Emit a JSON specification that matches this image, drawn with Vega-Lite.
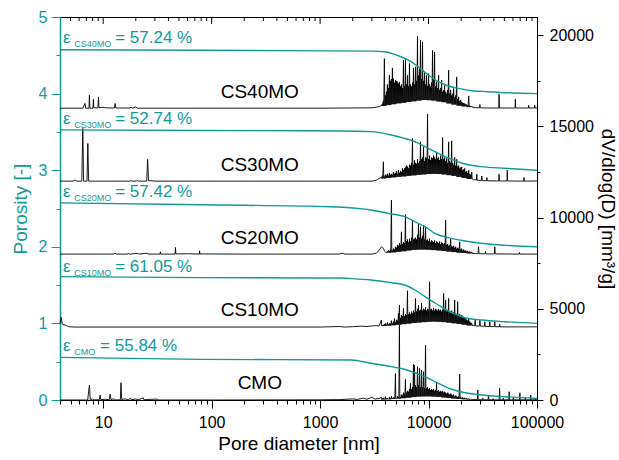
{
"$schema":"https://vega.github.io/schema/vega-lite/v6.json",
"width":477,"height":383,
"autosize":{"type":"none"},
"padding":{"left":60,"top":17,"right":82,"bottom":60},
"config":{"font":"Liberation Sans","view":{"stroke":"black","strokeWidth":1},"axis":{"grid":false,"labelFont":"Liberation Sans","titleFont":"Liberation Sans","labelFontSize":16,"titleFontSize":19,"titleFontWeight":"normal","labelOverlap":false,"labelFlush":false}},
"datasets":{
"dist":[
{"s":"CS40MO","d":4,"v":16000},{"s":"CS40MO","d":6.5,"v":16000},{"s":"CS40MO","d":6.8,"v":16260},{"s":"CS40MO","d":6.9,"v":16000},{"s":"CS40MO","d":7.4,"v":16000},{"s":"CS40MO","d":7.47,"v":16710},{"s":"CS40MO","d":7.55,"v":16000},{"s":"CS40MO","d":8.05,"v":16000},{"s":"CS40MO","d":8.13,"v":16490},{"s":"CS40MO","d":8.2,"v":16020},{"s":"CS40MO","d":8.95,"v":16020},{"s":"CS40MO","d":9.05,"v":16620},{"s":"CS40MO","d":9.15,"v":16030},{"s":"CS40MO","d":10,"v":16050},{"s":"CS40MO","d":10.5,"v":16020},{"s":"CS40MO","d":12.7,"v":16010},{"s":"CS40MO","d":12.9,"v":16260},{"s":"CS40MO","d":13.1,"v":16010},{"s":"CS40MO","d":17.8,"v":16010},{"s":"CS40MO","d":18,"v":16070},{"s":"CS40MO","d":18.5,"v":16000},{"s":"CS40MO","d":20,"v":16070},{"s":"CS40MO","d":20.5,"v":16000},{"s":"CS40MO","d":100,"v":16000},{"s":"CS40MO","d":1000,"v":16000},{"s":"CS40MO","d":3000,"v":16020},{"s":"CS40MO","d":3500,"v":16080},
{"s":"CS40MO","d":3673,"v":16150},{"s":"CS40MO","d":3702,"v":16120},{"s":"CS40MO","d":3752,"v":16250},{"s":"CS40MO","d":3782,"v":16120},{"s":"CS40MO","d":3833,"v":16400},{"s":"CS40MO","d":3864,"v":16120},{"s":"CS40MO","d":3916,"v":18720},{"s":"CS40MO","d":3947,"v":16120},{"s":"CS40MO","d":4000,"v":16700},{"s":"CS40MO","d":4032,"v":16120},
{"s":"CS40MO","d":4086,"v":16900},{"s":"CS40MO","d":4119,"v":16170},{"s":"CS40MO","d":4174,"v":17300},{"s":"CS40MO","d":4207,"v":16170},{"s":"CS40MO","d":4264,"v":17100},{"s":"CS40MO","d":4298,"v":16170},{"s":"CS40MO","d":4356,"v":17810},{"s":"CS40MO","d":4391,"v":16170},{"s":"CS40MO","d":4450,"v":17500},{"s":"CS40MO","d":4486,"v":16170},
{"s":"CS40MO","d":4546,"v":17600},{"s":"CS40MO","d":4582,"v":16220},{"s":"CS40MO","d":4644,"v":18210},{"s":"CS40MO","d":4681,"v":16220},{"s":"CS40MO","d":4744,"v":17625},{"s":"CS40MO","d":4782,"v":16220},{"s":"CS40MO","d":4846,"v":17400},{"s":"CS40MO","d":4885,"v":16220},{"s":"CS40MO","d":4951,"v":17530},{"s":"CS40MO","d":4991,"v":16220},
{"s":"CS40MO","d":5057,"v":17500},{"s":"CS40MO","d":5097,"v":16270},{"s":"CS40MO","d":5166,"v":17450},{"s":"CS40MO","d":5207,"v":16270},{"s":"CS40MO","d":5278,"v":17350},{"s":"CS40MO","d":5320,"v":16270},{"s":"CS40MO","d":5391,"v":17440},{"s":"CS40MO","d":5434,"v":16270},{"s":"CS40MO","d":5507,"v":17200},{"s":"CS40MO","d":5551,"v":16270},
{"s":"CS40MO","d":5626,"v":17300},{"s":"CS40MO","d":5671,"v":16300},{"s":"CS40MO","d":5747,"v":17100},{"s":"CS40MO","d":5793,"v":16300},{"s":"CS40MO","d":5871,"v":18630},{"s":"CS40MO","d":5918,"v":16300},{"s":"CS40MO","d":5998,"v":17200},{"s":"CS40MO","d":6046,"v":16300},{"s":"CS40MO","d":6127,"v":18720},{"s":"CS40MO","d":6176,"v":16300},
{"s":"CS40MO","d":6259,"v":17300},{"s":"CS40MO","d":6309,"v":16340},{"s":"CS40MO","d":6394,"v":17810},{"s":"CS40MO","d":6445,"v":16340},{"s":"CS40MO","d":6532,"v":17200},{"s":"CS40MO","d":6584,"v":16340},{"s":"CS40MO","d":6672,"v":18450},{"s":"CS40MO","d":6725,"v":16340},{"s":"CS40MO","d":6816,"v":17300},{"s":"CS40MO","d":6871,"v":16340},
{"s":"CS40MO","d":6963,"v":17200},{"s":"CS40MO","d":7019,"v":16380},{"s":"CS40MO","d":7113,"v":17400},{"s":"CS40MO","d":7170,"v":16380},{"s":"CS40MO","d":7266,"v":18210},{"s":"CS40MO","d":7324,"v":16380},{"s":"CS40MO","d":7423,"v":17300},{"s":"CS40MO","d":7482,"v":16380},{"s":"CS40MO","d":7583,"v":18265},{"s":"CS40MO","d":7644,"v":16380},
{"s":"CS40MO","d":7746,"v":17500},{"s":"CS40MO","d":7808,"v":16420},{"s":"CS40MO","d":7913,"v":19945},{"s":"CS40MO","d":7976,"v":16420},{"s":"CS40MO","d":8084,"v":17800},{"s":"CS40MO","d":8149,"v":16420},{"s":"CS40MO","d":8258,"v":18200},{"s":"CS40MO","d":8324,"v":16420},{"s":"CS40MO","d":8436,"v":19725},{"s":"CS40MO","d":8503,"v":16420},
{"s":"CS40MO","d":8618,"v":17600},{"s":"CS40MO","d":8687,"v":16450},{"s":"CS40MO","d":8803,"v":19634},{"s":"CS40MO","d":8873,"v":16450},{"s":"CS40MO","d":8993,"v":17500},{"s":"CS40MO","d":9065,"v":16450},{"s":"CS40MO","d":9187,"v":17990},{"s":"CS40MO","d":9260,"v":16450},{"s":"CS40MO","d":9385,"v":17300},{"s":"CS40MO","d":9460,"v":16450},
{"s":"CS40MO","d":9587,"v":17810},{"s":"CS40MO","d":9664,"v":16440},{"s":"CS40MO","d":9794,"v":17200},{"s":"CS40MO","d":9872,"v":16440},{"s":"CS40MO","d":10005,"v":17900},{"s":"CS40MO","d":10085,"v":16440},{"s":"CS40MO","d":10220,"v":17300},{"s":"CS40MO","d":10302,"v":16440},{"s":"CS40MO","d":10440,"v":17200},{"s":"CS40MO","d":10524,"v":16440},
{"s":"CS40MO","d":10665,"v":17400},{"s":"CS40MO","d":10750,"v":16420},{"s":"CS40MO","d":10895,"v":19177},{"s":"CS40MO","d":10982,"v":16420},{"s":"CS40MO","d":11130,"v":17600},{"s":"CS40MO","d":11219,"v":16420},{"s":"CS40MO","d":11370,"v":19086},{"s":"CS40MO","d":11461,"v":16420},{"s":"CS40MO","d":11615,"v":17200},{"s":"CS40MO","d":11708,"v":16420},
{"s":"CS40MO","d":11865,"v":17450},{"s":"CS40MO","d":11960,"v":16370},{"s":"CS40MO","d":12121,"v":17100},{"s":"CS40MO","d":12218,"v":16370},{"s":"CS40MO","d":12382,"v":17810},{"s":"CS40MO","d":12481,"v":16370},{"s":"CS40MO","d":12649,"v":17000},{"s":"CS40MO","d":12750,"v":16370},{"s":"CS40MO","d":12921,"v":17100},{"s":"CS40MO","d":13024,"v":16370},
{"s":"CS40MO","d":13200,"v":17534},{"s":"CS40MO","d":13306,"v":16330},{"s":"CS40MO","d":13484,"v":16900},{"s":"CS40MO","d":13592,"v":16330},{"s":"CS40MO","d":13775,"v":17000},{"s":"CS40MO","d":13885,"v":16330},{"s":"CS40MO","d":14072,"v":17250},{"s":"CS40MO","d":14185,"v":16330},{"s":"CS40MO","d":14375,"v":16900},{"s":"CS40MO","d":14490,"v":16330},
{"s":"CS40MO","d":14685,"v":16800},{"s":"CS40MO","d":14802,"v":16260},{"s":"CS40MO","d":15001,"v":17000},{"s":"CS40MO","d":15121,"v":16260},{"s":"CS40MO","d":15324,"v":18080},{"s":"CS40MO","d":15447,"v":16260},{"s":"CS40MO","d":15655,"v":16800},{"s":"CS40MO","d":15780,"v":16260},{"s":"CS40MO","d":15992,"v":17000},{"s":"CS40MO","d":16120,"v":16260},
{"s":"CS40MO","d":16337,"v":16700},{"s":"CS40MO","d":16468,"v":16200},{"s":"CS40MO","d":16689,"v":16800},{"s":"CS40MO","d":16823,"v":16200},{"s":"CS40MO","d":17049,"v":17077},{"s":"CS40MO","d":17185,"v":16200},{"s":"CS40MO","d":17417,"v":16600},{"s":"CS40MO","d":17556,"v":16200},{"s":"CS40MO","d":17792,"v":16700},{"s":"CS40MO","d":17934,"v":16200},
{"s":"CS40MO","d":18176,"v":17716},{"s":"CS40MO","d":18321,"v":16140},{"s":"CS40MO","d":18568,"v":16500},{"s":"CS40MO","d":18717,"v":16140},{"s":"CS40MO","d":18968,"v":16620},{"s":"CS40MO","d":19120,"v":16140},{"s":"CS40MO","d":19377,"v":16400},{"s":"CS40MO","d":19532,"v":16140},{"s":"CS40MO","d":19795,"v":16450},{"s":"CS40MO","d":19953,"v":16140},
{"s":"CS40MO","d":20221,"v":16350},{"s":"CS40MO","d":20383,"v":16100},{"s":"CS40MO","d":20657,"v":16300},{"s":"CS40MO","d":20822,"v":16100},{"s":"CS40MO","d":21103,"v":16280},{"s":"CS40MO","d":21272,"v":16100},{"s":"CS40MO","d":21558,"v":16250},{"s":"CS40MO","d":21730,"v":16100},{"s":"CS40MO","d":22022,"v":16200},{"s":"CS40MO","d":22198,"v":16100},
{"s":"CS40MO","d":22497,"v":16200},{"s":"CS40MO","d":22677,"v":16060},{"s":"CS40MO","d":22982,"v":16150},{"s":"CS40MO","d":23166,"v":16060},{"s":"CS40MO","d":23478,"v":16675},{"s":"CS40MO","d":23666,"v":16060},{"s":"CS40MO","d":23984,"v":16150},{"s":"CS40MO","d":24176,"v":16060},{"s":"CS40MO","d":24501,"v":16120},{"s":"CS40MO","d":24697,"v":16060},{"s":"CS40MO","d":25029,"v":16100},{"s":"CS40MO","d":25229,"v":16060},
{"s":"CS40MO","d":27000,"v":16030},{"s":"CS40MO","d":29500,"v":16020},{"s":"CS40MO","d":29750,"v":16200},{"s":"CS40MO","d":30000,"v":16020},{"s":"CS40MO","d":35000,"v":16010},{"s":"CS40MO","d":44400,"v":16010},{"s":"CS40MO","d":44700,"v":16767},{"s":"CS40MO","d":45000,"v":16010},{"s":"CS40MO","d":55000,"v":16010},{"s":"CS40MO","d":62800,"v":16010},{"s":"CS40MO","d":63200,"v":16493},{"s":"CS40MO","d":63600,"v":16010},{"s":"CS40MO","d":75000,"v":16010},{"s":"CS40MO","d":83400,"v":16010},{"s":"CS40MO","d":83800,"v":16164},{"s":"CS40MO","d":84200,"v":16010},{"s":"CS40MO","d":95000,"v":16010},{"s":"CS40MO","d":95300,"v":16164},{"s":"CS40MO","d":95700,"v":16010},{"s":"CS40MO","d":100000,"v":16010},
{"s":"CS30MO","d":4,"v":12000},{"s":"CS30MO","d":5.3,"v":12000},{"s":"CS30MO","d":5.5,"v":12060},{"s":"CS30MO","d":5.7,"v":12000},{"s":"CS30MO","d":6.35,"v":12000},{"s":"CS30MO","d":6.49,"v":14890},{"s":"CS30MO","d":6.6,"v":12000},{"s":"CS30MO","d":7.1,"v":12000},{"s":"CS30MO","d":7.22,"v":14065},{"s":"CS30MO","d":7.35,"v":12000},{"s":"CS30MO","d":17.8,"v":12000},{"s":"CS30MO","d":18,"v":12040},{"s":"CS30MO","d":18.4,"v":12000},{"s":"CS30MO","d":20.3,"v":12000},{"s":"CS30MO","d":20.6,"v":12040},{"s":"CS30MO","d":21,"v":12000},{"s":"CS30MO","d":25.2,"v":12000},{"s":"CS30MO","d":25.7,"v":13190},{"s":"CS30MO","d":26.2,"v":12020},{"s":"CS30MO","d":27,"v":12030},{"s":"CS30MO","d":30,"v":12000},{"s":"CS30MO","d":100,"v":12000},{"s":"CS30MO","d":1000,"v":12000},{"s":"CS30MO","d":3000,"v":12000},{"s":"CS30MO","d":3300,"v":12050},{"s":"CS30MO","d":3500,"v":12150},
{"s":"CS30MO","d":3673,"v":12200},{"s":"CS30MO","d":3702,"v":12150},{"s":"CS30MO","d":3752,"v":12300},{"s":"CS30MO","d":3782,"v":12150},{"s":"CS30MO","d":3833,"v":13060},{"s":"CS30MO","d":3864,"v":12150},{"s":"CS30MO","d":3916,"v":12250},{"s":"CS30MO","d":3947,"v":12150},{"s":"CS30MO","d":4000,"v":12350},{"s":"CS30MO","d":4032,"v":12150},
{"s":"CS30MO","d":4086,"v":12300},{"s":"CS30MO","d":4119,"v":12180},{"s":"CS30MO","d":4174,"v":12400},{"s":"CS30MO","d":4207,"v":12180},{"s":"CS30MO","d":4264,"v":12300},{"s":"CS30MO","d":4298,"v":12180},{"s":"CS30MO","d":4356,"v":12450},{"s":"CS30MO","d":4391,"v":12180},{"s":"CS30MO","d":4450,"v":12350},{"s":"CS30MO","d":4486,"v":12180},
{"s":"CS30MO","d":4546,"v":12400},{"s":"CS30MO","d":4582,"v":12210},{"s":"CS30MO","d":4644,"v":12350},{"s":"CS30MO","d":4681,"v":12210},{"s":"CS30MO","d":4744,"v":12500},{"s":"CS30MO","d":4782,"v":12210},{"s":"CS30MO","d":4846,"v":12400},{"s":"CS30MO","d":4885,"v":12210},{"s":"CS30MO","d":4951,"v":12450},{"s":"CS30MO","d":4991,"v":12210},
{"s":"CS30MO","d":5057,"v":12550},{"s":"CS30MO","d":5097,"v":12240},{"s":"CS30MO","d":5166,"v":12400},{"s":"CS30MO","d":5207,"v":12240},{"s":"CS30MO","d":5278,"v":12600},{"s":"CS30MO","d":5320,"v":12240},{"s":"CS30MO","d":5391,"v":12450},{"s":"CS30MO","d":5434,"v":12240},{"s":"CS30MO","d":5507,"v":12550},{"s":"CS30MO","d":5551,"v":12240},
{"s":"CS30MO","d":5626,"v":12500},{"s":"CS30MO","d":5671,"v":12260},{"s":"CS30MO","d":5747,"v":12700},{"s":"CS30MO","d":5793,"v":12260},{"s":"CS30MO","d":5871,"v":12600},{"s":"CS30MO","d":5918,"v":12260},{"s":"CS30MO","d":5998,"v":12690},{"s":"CS30MO","d":6046,"v":12260},{"s":"CS30MO","d":6127,"v":12750},{"s":"CS30MO","d":6176,"v":12260},
{"s":"CS30MO","d":6259,"v":12850},{"s":"CS30MO","d":6309,"v":12290},{"s":"CS30MO","d":6394,"v":12800},{"s":"CS30MO","d":6445,"v":12290},{"s":"CS30MO","d":6532,"v":12700},{"s":"CS30MO","d":6584,"v":12290},{"s":"CS30MO","d":6672,"v":12900},{"s":"CS30MO","d":6725,"v":12290},{"s":"CS30MO","d":6816,"v":12850},{"s":"CS30MO","d":6871,"v":12290},
{"s":"CS30MO","d":6963,"v":13000},{"s":"CS30MO","d":7019,"v":12320},{"s":"CS30MO","d":7113,"v":14337},{"s":"CS30MO","d":7170,"v":12320},{"s":"CS30MO","d":7266,"v":12900},{"s":"CS30MO","d":7324,"v":12320},{"s":"CS30MO","d":7423,"v":13150},{"s":"CS30MO","d":7482,"v":12320},{"s":"CS30MO","d":7583,"v":13000},{"s":"CS30MO","d":7644,"v":12320},
{"s":"CS30MO","d":7746,"v":12950},{"s":"CS30MO","d":7808,"v":12350},{"s":"CS30MO","d":7913,"v":13200},{"s":"CS30MO","d":7976,"v":12350},{"s":"CS30MO","d":8084,"v":13000},{"s":"CS30MO","d":8149,"v":12350},{"s":"CS30MO","d":8258,"v":13100},{"s":"CS30MO","d":8324,"v":12350},{"s":"CS30MO","d":8436,"v":14155},{"s":"CS30MO","d":8503,"v":12350},
{"s":"CS30MO","d":8618,"v":13200},{"s":"CS30MO","d":8687,"v":12370},{"s":"CS30MO","d":8803,"v":13300},{"s":"CS30MO","d":8873,"v":12370},{"s":"CS30MO","d":8993,"v":13880},{"s":"CS30MO","d":9065,"v":12370},{"s":"CS30MO","d":9187,"v":13100},{"s":"CS30MO","d":9260,"v":12370},{"s":"CS30MO","d":9385,"v":13300},{"s":"CS30MO","d":9460,"v":12370},
{"s":"CS30MO","d":9587,"v":13250},{"s":"CS30MO","d":9664,"v":12390},{"s":"CS30MO","d":9794,"v":15670},{"s":"CS30MO","d":9872,"v":12390},{"s":"CS30MO","d":10005,"v":13200},{"s":"CS30MO","d":10085,"v":12390},{"s":"CS30MO","d":10220,"v":13400},{"s":"CS30MO","d":10302,"v":12390},{"s":"CS30MO","d":10440,"v":13150},{"s":"CS30MO","d":10524,"v":12390},
{"s":"CS30MO","d":10665,"v":13300},{"s":"CS30MO","d":10750,"v":12400},{"s":"CS30MO","d":10895,"v":13250},{"s":"CS30MO","d":10982,"v":12400},{"s":"CS30MO","d":11130,"v":13400},{"s":"CS30MO","d":11219,"v":12400},{"s":"CS30MO","d":11370,"v":13300},{"s":"CS30MO","d":11461,"v":12400},{"s":"CS30MO","d":11615,"v":13200},{"s":"CS30MO","d":11708,"v":12400},
{"s":"CS30MO","d":11865,"v":13607},{"s":"CS30MO","d":11960,"v":12390},{"s":"CS30MO","d":12121,"v":13250},{"s":"CS30MO","d":12218,"v":12390},{"s":"CS30MO","d":12382,"v":13300},{"s":"CS30MO","d":12481,"v":12390},{"s":"CS30MO","d":12649,"v":13150},{"s":"CS30MO","d":12750,"v":12390},{"s":"CS30MO","d":12921,"v":13400},{"s":"CS30MO","d":13024,"v":12390},
{"s":"CS30MO","d":13200,"v":13200},{"s":"CS30MO","d":13306,"v":12370},{"s":"CS30MO","d":13484,"v":14392},{"s":"CS30MO","d":13592,"v":12370},{"s":"CS30MO","d":13775,"v":13200},{"s":"CS30MO","d":13885,"v":12370},{"s":"CS30MO","d":14072,"v":13300},{"s":"CS30MO","d":14185,"v":12370},{"s":"CS30MO","d":14375,"v":13100},{"s":"CS30MO","d":14490,"v":12370},
{"s":"CS30MO","d":14685,"v":13250},{"s":"CS30MO","d":14802,"v":12330},{"s":"CS30MO","d":15001,"v":13000},{"s":"CS30MO","d":15121,"v":12330},{"s":"CS30MO","d":15324,"v":14155},{"s":"CS30MO","d":15447,"v":12330},{"s":"CS30MO","d":15655,"v":13100},{"s":"CS30MO","d":15780,"v":12330},{"s":"CS30MO","d":15992,"v":13000},{"s":"CS30MO","d":16120,"v":12330},
{"s":"CS30MO","d":16337,"v":14210},{"s":"CS30MO","d":16468,"v":12290},{"s":"CS30MO","d":16689,"v":13000},{"s":"CS30MO","d":16823,"v":12290},{"s":"CS30MO","d":17049,"v":12900},{"s":"CS30MO","d":17185,"v":12290},{"s":"CS30MO","d":17417,"v":13300},{"s":"CS30MO","d":17556,"v":12290},{"s":"CS30MO","d":17792,"v":12850},{"s":"CS30MO","d":17934,"v":12290},
{"s":"CS30MO","d":18176,"v":13200},{"s":"CS30MO","d":18321,"v":12230},{"s":"CS30MO","d":18568,"v":12800},{"s":"CS30MO","d":18717,"v":12230},{"s":"CS30MO","d":18968,"v":12850},{"s":"CS30MO","d":19120,"v":12230},{"s":"CS30MO","d":19377,"v":12700},{"s":"CS30MO","d":19532,"v":12230},{"s":"CS30MO","d":19795,"v":12750},{"s":"CS30MO","d":19953,"v":12230},
{"s":"CS30MO","d":20221,"v":12785},{"s":"CS30MO","d":20383,"v":12180},{"s":"CS30MO","d":20657,"v":12600},{"s":"CS30MO","d":20822,"v":12180},{"s":"CS30MO","d":21103,"v":12650},{"s":"CS30MO","d":21272,"v":12180},{"s":"CS30MO","d":21558,"v":12700},{"s":"CS30MO","d":21730,"v":12180},{"s":"CS30MO","d":22022,"v":12500},{"s":"CS30MO","d":22198,"v":12180},
{"s":"CS30MO","d":22497,"v":12550},{"s":"CS30MO","d":22677,"v":12120},{"s":"CS30MO","d":22982,"v":12450},{"s":"CS30MO","d":23166,"v":12120},{"s":"CS30MO","d":23478,"v":12600},{"s":"CS30MO","d":23666,"v":12120},{"s":"CS30MO","d":23984,"v":12400},{"s":"CS30MO","d":24176,"v":12120},{"s":"CS30MO","d":24501,"v":12350},{"s":"CS30MO","d":24697,"v":12120},{"s":"CS30MO","d":25029,"v":12500},{"s":"CS30MO","d":25229,"v":12120},
{"s":"CS30MO","d":26000,"v":12080},{"s":"CS30MO","d":27600,"v":12060},{"s":"CS30MO","d":27860,"v":12380},{"s":"CS30MO","d":28100,"v":12050},{"s":"CS30MO","d":30700,"v":12040},{"s":"CS30MO","d":30980,"v":12280},{"s":"CS30MO","d":31250,"v":12030},{"s":"CS30MO","d":34200,"v":12020},{"s":"CS30MO","d":34520,"v":12200},{"s":"CS30MO","d":34800,"v":12020},{"s":"CS30MO","d":44300,"v":12010},{"s":"CS30MO","d":44700,"v":12383},{"s":"CS30MO","d":45100,"v":12010},{"s":"CS30MO","d":52800,"v":12010},{"s":"CS30MO","d":53220,"v":12600},{"s":"CS30MO","d":53650,"v":12010},{"s":"CS30MO","d":75500,"v":12000},{"s":"CS30MO","d":76000,"v":12200},{"s":"CS30MO","d":76500,"v":12000},{"s":"CS30MO","d":100000,"v":12010},
{"s":"CS20MO","d":4,"v":8000},{"s":"CS20MO","d":12.6,"v":8000},{"s":"CS20MO","d":12.9,"v":8060},{"s":"CS20MO","d":13.2,"v":8000},{"s":"CS20MO","d":16.8,"v":8000},{"s":"CS20MO","d":17,"v":8050},{"s":"CS20MO","d":17.3,"v":8000},{"s":"CS20MO","d":21,"v":8040},{"s":"CS20MO","d":21.3,"v":8000},{"s":"CS20MO","d":25.5,"v":8050},{"s":"CS20MO","d":25.8,"v":8000},{"s":"CS20MO","d":33.5,"v":8000},{"s":"CS20MO","d":33.7,"v":8125},{"s":"CS20MO","d":34,"v":8000},{"s":"CS20MO","d":46,"v":8000},{"s":"CS20MO","d":46.4,"v":8365},{"s":"CS20MO","d":46.8,"v":8010},{"s":"CS20MO","d":60,"v":8020},{"s":"CS20MO","d":77,"v":8000},{"s":"CS20MO","d":77.4,"v":8180},{"s":"CS20MO","d":78,"v":8010},{"s":"CS20MO","d":200,"v":8000},{"s":"CS20MO","d":1500,"v":8000},{"s":"CS20MO","d":1600,"v":8050},{"s":"CS20MO","d":1700,"v":8000},{"s":"CS20MO","d":3000,"v":8000},{"s":"CS20MO","d":3300,"v":8050},{"s":"CS20MO","d":3500,"v":8200},
{"s":"CS20MO","d":3673,"v":8400},{"s":"CS20MO","d":3702,"v":8380},{"s":"CS20MO","d":3752,"v":8380},{"s":"CS20MO","d":3782,"v":8350},{"s":"CS20MO","d":3833,"v":8300},{"s":"CS20MO","d":3864,"v":8270},{"s":"CS20MO","d":3916,"v":8200},{"s":"CS20MO","d":3947,"v":8150},{"s":"CS20MO","d":4000,"v":8120},{"s":"CS20MO","d":4032,"v":8100},
{"s":"CS20MO","d":4086,"v":8100},{"s":"CS20MO","d":4119,"v":8080},{"s":"CS20MO","d":4174,"v":8150},{"s":"CS20MO","d":4207,"v":8080},{"s":"CS20MO","d":4264,"v":8200},{"s":"CS20MO","d":4298,"v":8080},{"s":"CS20MO","d":4356,"v":8150},{"s":"CS20MO","d":4391,"v":8080},{"s":"CS20MO","d":4450,"v":8250},{"s":"CS20MO","d":4486,"v":8080},
{"s":"CS20MO","d":4546,"v":10960},{"s":"CS20MO","d":4582,"v":8100},{"s":"CS20MO","d":4644,"v":8200},{"s":"CS20MO","d":4681,"v":8100},{"s":"CS20MO","d":4744,"v":8300},{"s":"CS20MO","d":4782,"v":8100},{"s":"CS20MO","d":4846,"v":8250},{"s":"CS20MO","d":4885,"v":8100},{"s":"CS20MO","d":4951,"v":8400},{"s":"CS20MO","d":4991,"v":8100},
{"s":"CS20MO","d":5057,"v":8350},{"s":"CS20MO","d":5097,"v":8130},{"s":"CS20MO","d":5166,"v":8500},{"s":"CS20MO","d":5207,"v":8130},{"s":"CS20MO","d":5278,"v":8450},{"s":"CS20MO","d":5320,"v":8130},{"s":"CS20MO","d":5391,"v":8600},{"s":"CS20MO","d":5434,"v":8130},{"s":"CS20MO","d":5507,"v":8500},{"s":"CS20MO","d":5551,"v":8130},
{"s":"CS20MO","d":5626,"v":9220},{"s":"CS20MO","d":5671,"v":8160},{"s":"CS20MO","d":5747,"v":8550},{"s":"CS20MO","d":5793,"v":8160},{"s":"CS20MO","d":5871,"v":8650},{"s":"CS20MO","d":5918,"v":8160},{"s":"CS20MO","d":5998,"v":8600},{"s":"CS20MO","d":6046,"v":8160},{"s":"CS20MO","d":6127,"v":10170},{"s":"CS20MO","d":6176,"v":8160},
{"s":"CS20MO","d":6259,"v":8700},{"s":"CS20MO","d":6309,"v":8200},{"s":"CS20MO","d":6394,"v":8800},{"s":"CS20MO","d":6445,"v":8200},{"s":"CS20MO","d":6532,"v":8650},{"s":"CS20MO","d":6584,"v":8200},{"s":"CS20MO","d":6672,"v":8850},{"s":"CS20MO","d":6725,"v":8200},{"s":"CS20MO","d":6816,"v":8700},{"s":"CS20MO","d":6871,"v":8200},
{"s":"CS20MO","d":6963,"v":8900},{"s":"CS20MO","d":7019,"v":8230},{"s":"CS20MO","d":7113,"v":9860},{"s":"CS20MO","d":7170,"v":8230},{"s":"CS20MO","d":7266,"v":8800},{"s":"CS20MO","d":7324,"v":8230},{"s":"CS20MO","d":7423,"v":8850},{"s":"CS20MO","d":7482,"v":8230},{"s":"CS20MO","d":7583,"v":8900},{"s":"CS20MO","d":7644,"v":8230},
{"s":"CS20MO","d":7746,"v":8800},{"s":"CS20MO","d":7808,"v":8250},{"s":"CS20MO","d":7913,"v":9050},{"s":"CS20MO","d":7976,"v":8250},{"s":"CS20MO","d":8084,"v":9680},{"s":"CS20MO","d":8149,"v":8250},{"s":"CS20MO","d":8258,"v":8900},{"s":"CS20MO","d":8324,"v":8250},{"s":"CS20MO","d":8436,"v":9500},{"s":"CS20MO","d":8503,"v":8250},
{"s":"CS20MO","d":8618,"v":8850},{"s":"CS20MO","d":8687,"v":8250},{"s":"CS20MO","d":8803,"v":9000},{"s":"CS20MO","d":8873,"v":8250},{"s":"CS20MO","d":8993,"v":9590},{"s":"CS20MO","d":9065,"v":8250},{"s":"CS20MO","d":9187,"v":8800},{"s":"CS20MO","d":9260,"v":8250},{"s":"CS20MO","d":9385,"v":9500},{"s":"CS20MO","d":9460,"v":8250},
{"s":"CS20MO","d":9587,"v":8750},{"s":"CS20MO","d":9664,"v":8240},{"s":"CS20MO","d":9794,"v":8800},{"s":"CS20MO","d":9872,"v":8240},{"s":"CS20MO","d":10005,"v":8700},{"s":"CS20MO","d":10085,"v":8240},{"s":"CS20MO","d":10220,"v":8850},{"s":"CS20MO","d":10302,"v":8240},{"s":"CS20MO","d":10440,"v":8650},{"s":"CS20MO","d":10524,"v":8240},
{"s":"CS20MO","d":10665,"v":8750},{"s":"CS20MO","d":10750,"v":8220},{"s":"CS20MO","d":10895,"v":8700},{"s":"CS20MO","d":10982,"v":8220},{"s":"CS20MO","d":11130,"v":8650},{"s":"CS20MO","d":11219,"v":8220},{"s":"CS20MO","d":11370,"v":8750},{"s":"CS20MO","d":11461,"v":8220},{"s":"CS20MO","d":11615,"v":8600},{"s":"CS20MO","d":11708,"v":8220},
{"s":"CS20MO","d":11865,"v":8700},{"s":"CS20MO","d":11960,"v":8200},{"s":"CS20MO","d":12121,"v":8650},{"s":"CS20MO","d":12218,"v":8200},{"s":"CS20MO","d":12382,"v":8600},{"s":"CS20MO","d":12481,"v":8200},{"s":"CS20MO","d":12649,"v":8700},{"s":"CS20MO","d":12750,"v":8200},{"s":"CS20MO","d":12921,"v":8550},{"s":"CS20MO","d":13024,"v":8200},
{"s":"CS20MO","d":13200,"v":8650},{"s":"CS20MO","d":13306,"v":8170},{"s":"CS20MO","d":13484,"v":8600},{"s":"CS20MO","d":13592,"v":8170},{"s":"CS20MO","d":13775,"v":8550},{"s":"CS20MO","d":13885,"v":8170},{"s":"CS20MO","d":14072,"v":8600},{"s":"CS20MO","d":14185,"v":8170},{"s":"CS20MO","d":14375,"v":9860},{"s":"CS20MO","d":14490,"v":8170},
{"s":"CS20MO","d":14685,"v":8500},{"s":"CS20MO","d":14802,"v":8140},{"s":"CS20MO","d":15001,"v":8550},{"s":"CS20MO","d":15121,"v":8140},{"s":"CS20MO","d":15324,"v":8450},{"s":"CS20MO","d":15447,"v":8140},{"s":"CS20MO","d":15655,"v":8500},{"s":"CS20MO","d":15780,"v":8140},{"s":"CS20MO","d":15992,"v":8860},{"s":"CS20MO","d":16120,"v":8140},
{"s":"CS20MO","d":16337,"v":8450},{"s":"CS20MO","d":16468,"v":8110},{"s":"CS20MO","d":16689,"v":8400},{"s":"CS20MO","d":16823,"v":8110},{"s":"CS20MO","d":17049,"v":8450},{"s":"CS20MO","d":17185,"v":8110},{"s":"CS20MO","d":17417,"v":8350},{"s":"CS20MO","d":17556,"v":8110},{"s":"CS20MO","d":17792,"v":8400},{"s":"CS20MO","d":17934,"v":8110},
{"s":"CS20MO","d":18176,"v":8300},{"s":"CS20MO","d":18321,"v":8080},{"s":"CS20MO","d":18568,"v":8350},{"s":"CS20MO","d":18717,"v":8080},{"s":"CS20MO","d":18968,"v":8300},{"s":"CS20MO","d":19120,"v":8080},{"s":"CS20MO","d":19377,"v":8675},{"s":"CS20MO","d":19532,"v":8080},{"s":"CS20MO","d":19795,"v":8250},{"s":"CS20MO","d":19953,"v":8080},
{"s":"CS20MO","d":20221,"v":8300},{"s":"CS20MO","d":20383,"v":8060},{"s":"CS20MO","d":20657,"v":8200},{"s":"CS20MO","d":20822,"v":8060},{"s":"CS20MO","d":21103,"v":8250},{"s":"CS20MO","d":21272,"v":8060},{"s":"CS20MO","d":21558,"v":8180},{"s":"CS20MO","d":21730,"v":8060},{"s":"CS20MO","d":22022,"v":8200},{"s":"CS20MO","d":22198,"v":8060},
{"s":"CS20MO","d":22497,"v":8150},{"s":"CS20MO","d":22677,"v":8040},{"s":"CS20MO","d":22982,"v":8180},{"s":"CS20MO","d":23166,"v":8040},{"s":"CS20MO","d":23478,"v":8120},{"s":"CS20MO","d":23666,"v":8040},{"s":"CS20MO","d":23984,"v":8150},{"s":"CS20MO","d":24176,"v":8040},{"s":"CS20MO","d":24501,"v":8100},{"s":"CS20MO","d":24697,"v":8040},{"s":"CS20MO","d":25029,"v":8120},{"s":"CS20MO","d":25229,"v":8040},
{"s":"CS20MO","d":27000,"v":8030},{"s":"CS20MO","d":28600,"v":8020},{"s":"CS20MO","d":28900,"v":8400},{"s":"CS20MO","d":29200,"v":8020},{"s":"CS20MO","d":33200,"v":8015},{"s":"CS20MO","d":33500,"v":8150},{"s":"CS20MO","d":33800,"v":8010},{"s":"CS20MO","d":40400,"v":8010},{"s":"CS20MO","d":40800,"v":8400},{"s":"CS20MO","d":41200,"v":8010},{"s":"CS20MO","d":68500,"v":8000},{"s":"CS20MO","d":69000,"v":8090},{"s":"CS20MO","d":69500,"v":8000},{"s":"CS20MO","d":100000,"v":8000},
{"s":"CS10MO","d":4,"v":4200},{"s":"CS10MO","d":4.1,"v":4530},{"s":"CS10MO","d":4.2,"v":4150},{"s":"CS10MO","d":4.5,"v":4100},{"s":"CS10MO","d":4.8,"v":4020},{"s":"CS10MO","d":5.5,"v":4000},{"s":"CS10MO","d":1000,"v":4000},{"s":"CS10MO","d":1500,"v":4030},{"s":"CS10MO","d":1700,"v":4000},{"s":"CS10MO","d":2000,"v":4020},{"s":"CS10MO","d":2400,"v":4050},{"s":"CS10MO","d":2700,"v":4030},{"s":"CS10MO","d":3000,"v":4060},{"s":"CS10MO","d":3300,"v":4080},{"s":"CS10MO","d":3500,"v":4050},
{"s":"CS10MO","d":3673,"v":4380},{"s":"CS10MO","d":3702,"v":4060},{"s":"CS10MO","d":3752,"v":4100},{"s":"CS10MO","d":3782,"v":4060},{"s":"CS10MO","d":3833,"v":4120},{"s":"CS10MO","d":3864,"v":4060},{"s":"CS10MO","d":3916,"v":4150},{"s":"CS10MO","d":3947,"v":4060},{"s":"CS10MO","d":4000,"v":4200},{"s":"CS10MO","d":4032,"v":4060},
{"s":"CS10MO","d":4086,"v":4120},{"s":"CS10MO","d":4119,"v":4080},{"s":"CS10MO","d":4174,"v":4250},{"s":"CS10MO","d":4207,"v":4080},{"s":"CS10MO","d":4264,"v":4150},{"s":"CS10MO","d":4298,"v":4080},{"s":"CS10MO","d":4356,"v":4200},{"s":"CS10MO","d":4391,"v":4080},{"s":"CS10MO","d":4450,"v":4180},{"s":"CS10MO","d":4486,"v":4080},
{"s":"CS10MO","d":4546,"v":4350},{"s":"CS10MO","d":4582,"v":4100},{"s":"CS10MO","d":4644,"v":4200},{"s":"CS10MO","d":4681,"v":4100},{"s":"CS10MO","d":4744,"v":4300},{"s":"CS10MO","d":4782,"v":4100},{"s":"CS10MO","d":4846,"v":4475},{"s":"CS10MO","d":4885,"v":4100},{"s":"CS10MO","d":4951,"v":4250},{"s":"CS10MO","d":4991,"v":4100},
{"s":"CS10MO","d":5057,"v":4400},{"s":"CS10MO","d":5097,"v":4130},{"s":"CS10MO","d":5166,"v":4350},{"s":"CS10MO","d":5207,"v":4130},{"s":"CS10MO","d":5278,"v":4750},{"s":"CS10MO","d":5320,"v":4130},{"s":"CS10MO","d":5391,"v":5205},{"s":"CS10MO","d":5434,"v":4130},{"s":"CS10MO","d":5507,"v":4500},{"s":"CS10MO","d":5551,"v":4130},
{"s":"CS10MO","d":5626,"v":4650},{"s":"CS10MO","d":5671,"v":4160},{"s":"CS10MO","d":5747,"v":4600},{"s":"CS10MO","d":5793,"v":4160},{"s":"CS10MO","d":5871,"v":5020},{"s":"CS10MO","d":5918,"v":4160},{"s":"CS10MO","d":5998,"v":4600},{"s":"CS10MO","d":6046,"v":4160},{"s":"CS10MO","d":6127,"v":4700},{"s":"CS10MO","d":6176,"v":4160},
{"s":"CS10MO","d":6259,"v":4650},{"s":"CS10MO","d":6309,"v":4190},{"s":"CS10MO","d":6394,"v":5990},{"s":"CS10MO","d":6445,"v":4190},{"s":"CS10MO","d":6532,"v":4700},{"s":"CS10MO","d":6584,"v":4190},{"s":"CS10MO","d":6672,"v":4800},{"s":"CS10MO","d":6725,"v":4190},{"s":"CS10MO","d":6816,"v":4700},{"s":"CS10MO","d":6871,"v":4190},
{"s":"CS10MO","d":6963,"v":4850},{"s":"CS10MO","d":7019,"v":4220},{"s":"CS10MO","d":7113,"v":4750},{"s":"CS10MO","d":7170,"v":4220},{"s":"CS10MO","d":7266,"v":4900},{"s":"CS10MO","d":7324,"v":4220},{"s":"CS10MO","d":7423,"v":4800},{"s":"CS10MO","d":7482,"v":4220},{"s":"CS10MO","d":7583,"v":5570},{"s":"CS10MO","d":7644,"v":4220},
{"s":"CS10MO","d":7746,"v":4850},{"s":"CS10MO","d":7808,"v":4250},{"s":"CS10MO","d":7913,"v":5000},{"s":"CS10MO","d":7976,"v":4250},{"s":"CS10MO","d":8084,"v":5205},{"s":"CS10MO","d":8149,"v":4250},{"s":"CS10MO","d":8258,"v":4900},{"s":"CS10MO","d":8324,"v":4250},{"s":"CS10MO","d":8436,"v":4950},{"s":"CS10MO","d":8503,"v":4250},
{"s":"CS10MO","d":8618,"v":5300},{"s":"CS10MO","d":8687,"v":4270},{"s":"CS10MO","d":8803,"v":4900},{"s":"CS10MO","d":8873,"v":4270},{"s":"CS10MO","d":8993,"v":5000},{"s":"CS10MO","d":9065,"v":4270},{"s":"CS10MO","d":9187,"v":4950},{"s":"CS10MO","d":9260,"v":4270},{"s":"CS10MO","d":9385,"v":5100},{"s":"CS10MO","d":9460,"v":4270},
{"s":"CS10MO","d":9587,"v":4900},{"s":"CS10MO","d":9664,"v":4290},{"s":"CS10MO","d":9794,"v":5000},{"s":"CS10MO","d":9872,"v":4290},{"s":"CS10MO","d":10005,"v":4950},{"s":"CS10MO","d":10085,"v":4290},{"s":"CS10MO","d":10220,"v":6480},{"s":"CS10MO","d":10302,"v":4290},{"s":"CS10MO","d":10440,"v":4950},{"s":"CS10MO","d":10524,"v":4290},
{"s":"CS10MO","d":10665,"v":5000},{"s":"CS10MO","d":10750,"v":4300},{"s":"CS10MO","d":10895,"v":4900},{"s":"CS10MO","d":10982,"v":4300},{"s":"CS10MO","d":11130,"v":5050},{"s":"CS10MO","d":11219,"v":4300},{"s":"CS10MO","d":11370,"v":4900},{"s":"CS10MO","d":11461,"v":4300},{"s":"CS10MO","d":11615,"v":5000},{"s":"CS10MO","d":11708,"v":4300},
{"s":"CS10MO","d":11865,"v":4950},{"s":"CS10MO","d":11960,"v":4290},{"s":"CS10MO","d":12121,"v":4900},{"s":"CS10MO","d":12218,"v":4290},{"s":"CS10MO","d":12382,"v":5000},{"s":"CS10MO","d":12481,"v":4290},{"s":"CS10MO","d":12649,"v":4900},{"s":"CS10MO","d":12750,"v":4290},{"s":"CS10MO","d":12921,"v":4950},{"s":"CS10MO","d":13024,"v":4290},
{"s":"CS10MO","d":13200,"v":4850},{"s":"CS10MO","d":13306,"v":4270},{"s":"CS10MO","d":13484,"v":4950},{"s":"CS10MO","d":13592,"v":4270},{"s":"CS10MO","d":13775,"v":5844},{"s":"CS10MO","d":13885,"v":4270},{"s":"CS10MO","d":14072,"v":4900},{"s":"CS10MO","d":14185,"v":4270},{"s":"CS10MO","d":14375,"v":5480},{"s":"CS10MO","d":14490,"v":4270},
{"s":"CS10MO","d":14685,"v":4850},{"s":"CS10MO","d":14802,"v":4240},{"s":"CS10MO","d":15001,"v":4900},{"s":"CS10MO","d":15121,"v":4240},{"s":"CS10MO","d":15324,"v":5570},{"s":"CS10MO","d":15447,"v":4240},{"s":"CS10MO","d":15655,"v":4850},{"s":"CS10MO","d":15780,"v":4240},{"s":"CS10MO","d":15992,"v":4800},{"s":"CS10MO","d":16120,"v":4240},
{"s":"CS10MO","d":16337,"v":4900},{"s":"CS10MO","d":16468,"v":4210},{"s":"CS10MO","d":16689,"v":4750},{"s":"CS10MO","d":16823,"v":4210},{"s":"CS10MO","d":17049,"v":4800},{"s":"CS10MO","d":17185,"v":4210},{"s":"CS10MO","d":17417,"v":5480},{"s":"CS10MO","d":17556,"v":4210},{"s":"CS10MO","d":17792,"v":4750},{"s":"CS10MO","d":17934,"v":4210},
{"s":"CS10MO","d":18176,"v":4700},{"s":"CS10MO","d":18321,"v":4170},{"s":"CS10MO","d":18568,"v":5390},{"s":"CS10MO","d":18717,"v":4170},{"s":"CS10MO","d":18968,"v":4650},{"s":"CS10MO","d":19120,"v":4170},{"s":"CS10MO","d":19377,"v":4700},{"s":"CS10MO","d":19532,"v":4170},{"s":"CS10MO","d":19795,"v":4600},{"s":"CS10MO","d":19953,"v":4170},
{"s":"CS10MO","d":20221,"v":4650},{"s":"CS10MO","d":20383,"v":4130},{"s":"CS10MO","d":20657,"v":4550},{"s":"CS10MO","d":20822,"v":4130},{"s":"CS10MO","d":21103,"v":4500},{"s":"CS10MO","d":21272,"v":4130},{"s":"CS10MO","d":21558,"v":4550},{"s":"CS10MO","d":21730,"v":4130},{"s":"CS10MO","d":22022,"v":4450},{"s":"CS10MO","d":22198,"v":4130},
{"s":"CS10MO","d":22497,"v":4400},{"s":"CS10MO","d":22677,"v":4090},{"s":"CS10MO","d":22982,"v":4350},{"s":"CS10MO","d":23166,"v":4090},{"s":"CS10MO","d":23478,"v":4475},{"s":"CS10MO","d":23666,"v":4090},{"s":"CS10MO","d":23984,"v":4300},{"s":"CS10MO","d":24176,"v":4090},{"s":"CS10MO","d":24501,"v":4250},{"s":"CS10MO","d":24697,"v":4090},{"s":"CS10MO","d":25029,"v":4200},{"s":"CS10MO","d":25229,"v":4090},
{"s":"CS10MO","d":26600,"v":4070},{"s":"CS10MO","d":26900,"v":4380},{"s":"CS10MO","d":27200,"v":4060},{"s":"CS10MO","d":29400,"v":4050},{"s":"CS10MO","d":29750,"v":4380},{"s":"CS10MO","d":30100,"v":4050},{"s":"CS10MO","d":32700,"v":4040},{"s":"CS10MO","d":33000,"v":4290},{"s":"CS10MO","d":33300,"v":4040},{"s":"CS10MO","d":36300,"v":4030},{"s":"CS10MO","d":36650,"v":4290},{"s":"CS10MO","d":37000,"v":4030},{"s":"CS10MO","d":40400,"v":4020},{"s":"CS10MO","d":40800,"v":4290},{"s":"CS10MO","d":41200,"v":4020},{"s":"CS10MO","d":44900,"v":4015},{"s":"CS10MO","d":45300,"v":4150},{"s":"CS10MO","d":45700,"v":4010},{"s":"CS10MO","d":100000,"v":4010},
{"s":"CMO","d":4,"v":0},{"s":"CMO","d":7.2,"v":0},{"s":"CMO","d":7.47,"v":822},{"s":"CMO","d":7.6,"v":20},{"s":"CMO","d":8,"v":60},{"s":"CMO","d":8.2,"v":10},{"s":"CMO","d":9.2,"v":10},{"s":"CMO","d":9.38,"v":270},{"s":"CMO","d":9.5,"v":20},{"s":"CMO","d":10.5,"v":40},{"s":"CMO","d":11.4,"v":20},{"s":"CMO","d":11.6,"v":330},{"s":"CMO","d":11.8,"v":20},{"s":"CMO","d":12.5,"v":60},{"s":"CMO","d":13,"v":10},{"s":"CMO","d":14.4,"v":10},{"s":"CMO","d":14.6,"v":950},{"s":"CMO","d":14.8,"v":30},{"s":"CMO","d":16,"v":60},{"s":"CMO","d":17,"v":10},{"s":"CMO","d":17.8,"v":100},{"s":"CMO","d":18.2,"v":10},{"s":"CMO","d":20,"v":60},{"s":"CMO","d":21,"v":10},{"s":"CMO","d":23.4,"v":120},{"s":"CMO","d":23.8,"v":10},{"s":"CMO","d":26,"v":30},{"s":"CMO","d":31.5,"v":50},{"s":"CMO","d":32,"v":0},{"s":"CMO","d":100,"v":0},{"s":"CMO","d":1000,"v":10},{"s":"CMO","d":1500,"v":20},{"s":"CMO","d":2000,"v":60},{"s":"CMO","d":2200,"v":30},{"s":"CMO","d":2500,"v":100},{"s":"CMO","d":2700,"v":40},{"s":"CMO","d":3000,"v":150},{"s":"CMO","d":3200,"v":50},{"s":"CMO","d":3500,"v":80},
{"s":"CMO","d":3673,"v":150},{"s":"CMO","d":3702,"v":30},{"s":"CMO","d":3752,"v":80},{"s":"CMO","d":3782,"v":30},{"s":"CMO","d":3833,"v":120},{"s":"CMO","d":3864,"v":30},{"s":"CMO","d":3916,"v":60},{"s":"CMO","d":3947,"v":30},{"s":"CMO","d":4000,"v":180},{"s":"CMO","d":4032,"v":30},
{"s":"CMO","d":4086,"v":80},{"s":"CMO","d":4119,"v":40},{"s":"CMO","d":4174,"v":100},{"s":"CMO","d":4207,"v":40},{"s":"CMO","d":4264,"v":60},{"s":"CMO","d":4298,"v":40},{"s":"CMO","d":4356,"v":150},{"s":"CMO","d":4391,"v":40},{"s":"CMO","d":4450,"v":80},{"s":"CMO","d":4486,"v":40},
{"s":"CMO","d":4546,"v":200},{"s":"CMO","d":4582,"v":60},{"s":"CMO","d":4644,"v":100},{"s":"CMO","d":4681,"v":60},{"s":"CMO","d":4744,"v":150},{"s":"CMO","d":4782,"v":60},{"s":"CMO","d":4846,"v":120},{"s":"CMO","d":4885,"v":60},{"s":"CMO","d":4951,"v":1460},{"s":"CMO","d":4991,"v":60},
{"s":"CMO","d":5057,"v":100},{"s":"CMO","d":5097,"v":80},{"s":"CMO","d":5166,"v":200},{"s":"CMO","d":5207,"v":80},{"s":"CMO","d":5278,"v":150},{"s":"CMO","d":5320,"v":80},{"s":"CMO","d":5391,"v":4110},{"s":"CMO","d":5434,"v":80},{"s":"CMO","d":5507,"v":150},{"s":"CMO","d":5551,"v":80},
{"s":"CMO","d":5626,"v":300},{"s":"CMO","d":5671,"v":100},{"s":"CMO","d":5747,"v":250},{"s":"CMO","d":5793,"v":100},{"s":"CMO","d":5871,"v":400},{"s":"CMO","d":5918,"v":100},{"s":"CMO","d":5998,"v":350},{"s":"CMO","d":6046,"v":100},{"s":"CMO","d":6127,"v":1130},{"s":"CMO","d":6176,"v":100},
{"s":"CMO","d":6259,"v":400},{"s":"CMO","d":6309,"v":130},{"s":"CMO","d":6394,"v":500},{"s":"CMO","d":6445,"v":130},{"s":"CMO","d":6532,"v":450},{"s":"CMO","d":6584,"v":130},{"s":"CMO","d":6672,"v":600},{"s":"CMO","d":6725,"v":130},{"s":"CMO","d":6816,"v":913},{"s":"CMO","d":6871,"v":130},
{"s":"CMO","d":6963,"v":600},{"s":"CMO","d":7019,"v":160},{"s":"CMO","d":7113,"v":700},{"s":"CMO","d":7170,"v":160},{"s":"CMO","d":7266,"v":1954},{"s":"CMO","d":7324,"v":160},{"s":"CMO","d":7423,"v":1917},{"s":"CMO","d":7482,"v":160},{"s":"CMO","d":7583,"v":800},{"s":"CMO","d":7644,"v":160},
{"s":"CMO","d":7746,"v":700},{"s":"CMO","d":7808,"v":190},{"s":"CMO","d":7913,"v":1826},{"s":"CMO","d":7976,"v":190},{"s":"CMO","d":8084,"v":800},{"s":"CMO","d":8149,"v":190},{"s":"CMO","d":8258,"v":1735},{"s":"CMO","d":8324,"v":190},{"s":"CMO","d":8436,"v":700},{"s":"CMO","d":8503,"v":190},
{"s":"CMO","d":8618,"v":1643},{"s":"CMO","d":8687,"v":200},{"s":"CMO","d":8803,"v":700},{"s":"CMO","d":8873,"v":200},{"s":"CMO","d":8993,"v":1550},{"s":"CMO","d":9065,"v":200},{"s":"CMO","d":9187,"v":650},{"s":"CMO","d":9260,"v":200},{"s":"CMO","d":9385,"v":3013},{"s":"CMO","d":9460,"v":200},
{"s":"CMO","d":9587,"v":650},{"s":"CMO","d":9664,"v":200},{"s":"CMO","d":9794,"v":700},{"s":"CMO","d":9872,"v":200},{"s":"CMO","d":10005,"v":600},{"s":"CMO","d":10085,"v":200},{"s":"CMO","d":10220,"v":650},{"s":"CMO","d":10302,"v":200},{"s":"CMO","d":10440,"v":550},{"s":"CMO","d":10524,"v":200},
{"s":"CMO","d":10665,"v":600},{"s":"CMO","d":10750,"v":190},{"s":"CMO","d":10895,"v":550},{"s":"CMO","d":10982,"v":190},{"s":"CMO","d":11130,"v":600},{"s":"CMO","d":11219,"v":190},{"s":"CMO","d":11370,"v":500},{"s":"CMO","d":11461,"v":190},{"s":"CMO","d":11615,"v":550},{"s":"CMO","d":11708,"v":190},
{"s":"CMO","d":11865,"v":913},{"s":"CMO","d":11960,"v":170},{"s":"CMO","d":12121,"v":500},{"s":"CMO","d":12218,"v":170},{"s":"CMO","d":12382,"v":550},{"s":"CMO","d":12481,"v":170},{"s":"CMO","d":12649,"v":450},{"s":"CMO","d":12750,"v":170},{"s":"CMO","d":12921,"v":500},{"s":"CMO","d":13024,"v":170},
{"s":"CMO","d":13200,"v":450},{"s":"CMO","d":13306,"v":140},{"s":"CMO","d":13484,"v":500},{"s":"CMO","d":13592,"v":140},{"s":"CMO","d":13775,"v":400},{"s":"CMO","d":13885,"v":140},{"s":"CMO","d":14072,"v":450},{"s":"CMO","d":14185,"v":140},{"s":"CMO","d":14375,"v":400},{"s":"CMO","d":14490,"v":140},
{"s":"CMO","d":14685,"v":350},{"s":"CMO","d":14802,"v":110},{"s":"CMO","d":15001,"v":400},{"s":"CMO","d":15121,"v":110},{"s":"CMO","d":15324,"v":350},{"s":"CMO","d":15447,"v":110},{"s":"CMO","d":15655,"v":300},{"s":"CMO","d":15780,"v":110},{"s":"CMO","d":15992,"v":350},{"s":"CMO","d":16120,"v":110},
{"s":"CMO","d":16337,"v":300},{"s":"CMO","d":16468,"v":80},{"s":"CMO","d":16689,"v":250},{"s":"CMO","d":16823,"v":80},{"s":"CMO","d":17049,"v":300},{"s":"CMO","d":17185,"v":80},{"s":"CMO","d":17417,"v":200},{"s":"CMO","d":17556,"v":80},{"s":"CMO","d":17792,"v":250},{"s":"CMO","d":17934,"v":80},
{"s":"CMO","d":18176,"v":200},{"s":"CMO","d":18321,"v":60},{"s":"CMO","d":18568,"v":150},{"s":"CMO","d":18717,"v":60},{"s":"CMO","d":18968,"v":200},{"s":"CMO","d":19120,"v":60},{"s":"CMO","d":19377,"v":1424},{"s":"CMO","d":19532,"v":60},{"s":"CMO","d":19795,"v":150},{"s":"CMO","d":19953,"v":60},
{"s":"CMO","d":20221,"v":120},{"s":"CMO","d":20383,"v":40},{"s":"CMO","d":20657,"v":150},{"s":"CMO","d":20822,"v":40},{"s":"CMO","d":21103,"v":100},{"s":"CMO","d":21272,"v":40},{"s":"CMO","d":21558,"v":120},{"s":"CMO","d":21730,"v":40},{"s":"CMO","d":22022,"v":80},{"s":"CMO","d":22198,"v":40},
{"s":"CMO","d":22497,"v":100},{"s":"CMO","d":22677,"v":25},{"s":"CMO","d":22982,"v":60},{"s":"CMO","d":23166,"v":25},{"s":"CMO","d":23478,"v":80},{"s":"CMO","d":23666,"v":25},{"s":"CMO","d":23984,"v":50},{"s":"CMO","d":24176,"v":25},{"s":"CMO","d":24501,"v":60},{"s":"CMO","d":24697,"v":25},{"s":"CMO","d":25029,"v":40},{"s":"CMO","d":25229,"v":25},
{"s":"CMO","d":28200,"v":20},{"s":"CMO","d":28450,"v":548},{"s":"CMO","d":28700,"v":20},{"s":"CMO","d":31400,"v":15},{"s":"CMO","d":31650,"v":100},{"s":"CMO","d":31900,"v":15},{"s":"CMO","d":35400,"v":10},{"s":"CMO","d":35700,"v":274},{"s":"CMO","d":36000,"v":10},{"s":"CMO","d":39000,"v":10},{"s":"CMO","d":39300,"v":80},{"s":"CMO","d":39600,"v":10},{"s":"CMO","d":44800,"v":10},{"s":"CMO","d":45200,"v":640},{"s":"CMO","d":45600,"v":10},{"s":"CMO","d":48400,"v":10},{"s":"CMO","d":48800,"v":100},{"s":"CMO","d":49200,"v":10},{"s":"CMO","d":55000,"v":10},{"s":"CMO","d":55400,"v":456},{"s":"CMO","d":55800,"v":10},{"s":"CMO","d":60100,"v":10},{"s":"CMO","d":60580,"v":150},{"s":"CMO","d":61000,"v":10},{"s":"CMO","d":69000,"v":10},{"s":"CMO","d":69500,"v":400},{"s":"CMO","d":70000,"v":10},{"s":"CMO","d":77500,"v":10},{"s":"CMO","d":78000,"v":150},{"s":"CMO","d":78500,"v":10},{"s":"CMO","d":87000,"v":10},{"s":"CMO","d":87500,"v":274},{"s":"CMO","d":88000,"v":10},{"s":"CMO","d":96500,"v":10},{"s":"CMO","d":97000,"v":80},{"s":"CMO","d":97500,"v":10},{"s":"CMO","d":100000,"v":10}
],
"cum":[
{"s":"CS40MO","d":4,"p":4.572},{"s":"CS40MO","d":79,"p":4.565},{"s":"CS40MO","d":1265,"p":4.558},{"s":"CS40MO","d":2965,"p":4.555},{"s":"CS40MO","d":3916,"p":4.547},{"s":"CS40MO","d":5248,"p":4.495},{"s":"CS40MO","d":6490,"p":4.439},{"s":"CS40MO","d":8035,"p":4.351},{"s":"CS40MO","d":9940,"p":4.243},{"s":"CS40MO","d":12300,"p":4.155},{"s":"CS40MO","d":15230,"p":4.099},{"s":"CS40MO","d":18840,"p":4.069},{"s":"CS40MO","d":25010,"p":4.038},{"s":"CS40MO","d":35720,"p":4.025},{"s":"CS40MO","d":50580,"p":4.012},{"s":"CS40MO","d":100000,"p":4.0},
{"s":"CS30MO","d":4,"p":3.527},{"s":"CS30MO","d":79,"p":3.518},{"s":"CS30MO","d":1566,"p":3.512},{"s":"CS30MO","d":2965,"p":3.503},{"s":"CS30MO","d":4546,"p":3.46},{"s":"CS30MO","d":6040,"p":3.416},{"s":"CS30MO","d":7470,"p":3.372},{"s":"CS30MO","d":9250,"p":3.307},{"s":"CS30MO","d":12300,"p":3.221},{"s":"CS30MO","d":16340,"p":3.142},{"s":"CS30MO","d":21680,"p":3.081},{"s":"CS30MO","d":30970,"p":3.046},{"s":"CS30MO","d":50580,"p":3.025},{"s":"CS30MO","d":100000,"p":3.0},
{"s":"CS20MO","d":4,"p":2.574},{"s":"CS20MO","d":79,"p":2.548},{"s":"CS20MO","d":1265,"p":2.523},{"s":"CS20MO","d":2965,"p":2.48},{"s":"CS20MO","d":4240,"p":2.437},{"s":"CS20MO","d":6040,"p":2.393},{"s":"CS20MO","d":7470,"p":2.328},{"s":"CS20MO","d":9250,"p":2.263},{"s":"CS20MO","d":11430,"p":2.176},{"s":"CS20MO","d":15230,"p":2.119},{"s":"CS20MO","d":21680,"p":2.076},{"s":"CS20MO","d":35720,"p":2.037},{"s":"CS20MO","d":100000,"p":2.0},
{"s":"CS10MO","d":4,"p":1.61},{"s":"CS10MO","d":79,"p":1.597},{"s":"CS10MO","d":1566,"p":1.593},{"s":"CS10MO","d":2250,"p":1.578},{"s":"CS10MO","d":2965,"p":1.567},{"s":"CS10MO","d":4546,"p":1.531},{"s":"CS10MO","d":6040,"p":1.501},{"s":"CS10MO","d":7470,"p":1.436},{"s":"CS10MO","d":9250,"p":1.349},{"s":"CS10MO","d":12300,"p":1.24},{"s":"CS10MO","d":16340,"p":1.14},{"s":"CS10MO","d":21680,"p":1.074},{"s":"CS10MO","d":30970,"p":1.044},{"s":"CS10MO","d":50580,"p":1.022},{"s":"CS10MO","d":100000,"p":1.0},
{"s":"CMO","d":4,"p":0.556},{"s":"CMO","d":79,"p":0.531},{"s":"CMO","d":1937,"p":0.522},{"s":"CMO","d":2965,"p":0.479},{"s":"CMO","d":4546,"p":0.435},{"s":"CMO","d":6040,"p":0.401},{"s":"CMO","d":7470,"p":0.356},{"s":"CMO","d":9250,"p":0.304},{"s":"CMO","d":12300,"p":0.218},{"s":"CMO","d":16340,"p":0.14},{"s":"CMO","d":21680,"p":0.095},{"s":"CMO","d":30970,"p":0.065},{"s":"CMO","d":50580,"p":0.043},{"s":"CMO","d":100000,"p":0.02}
],
"names":[
{"d":278,"p":3.938,"t":"CS40MO"},{"d":278,"p":2.993,"t":"CS30MO"},{"d":278,"p":2.035,"t":"CS20MO"},{"d":278,"p":1.097,"t":"CS10MO"},{"d":278,"p":0.14,"t":"CMO"}
],
"eps":[
{"k":"e","d":4.26,"p":4.66,"t":"ε"},{"k":"s","d":5.4,"p":4.66,"t":"CS40MO"},{"k":"m","d":12.9,"p":4.66,"t":"= 57.24 %"},
{"k":"e","d":4.26,"p":3.603,"t":"ε"},{"k":"s","d":5.4,"p":3.603,"t":"CS30MO"},{"k":"m","d":12.9,"p":3.603,"t":"= 52.74 %"},
{"k":"e","d":4.26,"p":2.65,"t":"ε"},{"k":"s","d":5.4,"p":2.65,"t":"CS20MO"},{"k":"m","d":12.9,"p":2.65,"t":"= 57.42 %"},
{"k":"e","d":4.26,"p":1.675,"t":"ε"},{"k":"s","d":5.4,"p":1.675,"t":"CS10MO"},{"k":"m","d":12.9,"p":1.675,"t":"= 61.05 %"},
{"k":"e","d":4.26,"p":0.644,"t":"ε"},{"k":"s","d":5.4,"p":0.644,"t":"CMO"},{"k":"m","d":9.37,"p":0.644,"t":"= 55.84 %"}
],
"topticks":[
{"d":5,"major":false},{"d":6,"major":false},{"d":7,"major":false},{"d":8,"major":false},{"d":9,"major":false},{"d":10,"major":true},
{"d":20,"major":false},{"d":30,"major":false},{"d":40,"major":false},{"d":50,"major":false},{"d":60,"major":false},{"d":70,"major":false},{"d":80,"major":false},{"d":90,"major":false},{"d":100,"major":true},
{"d":200,"major":false},{"d":300,"major":false},{"d":400,"major":false},{"d":500,"major":false},{"d":600,"major":false},{"d":700,"major":false},{"d":800,"major":false},{"d":900,"major":false},{"d":1000,"major":true},
{"d":2000,"major":false},{"d":3000,"major":false},{"d":4000,"major":false},{"d":5000,"major":false},{"d":6000,"major":false},{"d":7000,"major":false},{"d":8000,"major":false},{"d":9000,"major":false},{"d":10000,"major":true},
{"d":20000,"major":false},{"d":30000,"major":false},{"d":40000,"major":false},{"d":50000,"major":false},{"d":60000,"major":false},{"d":70000,"major":false},{"d":80000,"major":false},{"d":90000,"major":false}
]
},
"layer":[
{"data":{"name":"dist"},
 "mark":{"type":"line","color":"black","strokeWidth":0.9},
 "encoding":{
  "x":{"field":"d","type":"quantitative","scale":{"type":"log","domain":[4,100000],"nice":false},"axis":null},
  "y":{"field":"v","type":"quantitative","scale":{"domain":[0,21000],"nice":false,"zero":false},
   "axis":{"orient":"right","values":[0,2500,5000,7500,10000,12500,15000,17500,20000],
    "labelExpr":"datum.value % 5000 === 0 ? format(datum.value,'d') : ''",
    "tickSize":{"condition":{"test":"datum.value % 5000 === 0","value":6},"value":3},
    "labelPadding":6,"title":"dV/dlog(D) [mm³/g]","titlePadding":4,"domainColor":"black","tickColor":"black","labelColor":"black","titleColor":"black"}},
  "detail":{"field":"s"}
 }
},
{"data":{"name":"cum"},
 "mark":{"type":"line","color":"#13999a","strokeWidth":1.4,"interpolate":"monotone"},
 "encoding":{
  "x":{"field":"d","type":"quantitative","scale":{"type":"log","domain":[4,100000],"nice":false},
   "axis":{"orient":"bottom","title":"Pore diameter [nm]","domainColor":"black","tickColor":"black","labelColor":"black","titleColor":"black",
    "values":[4,5,6,7,8,9,10,20,30,40,50,60,70,80,90,100,200,300,400,500,600,700,800,900,1000,2000,3000,4000,5000,6000,7000,8000,9000,10000,20000,30000,40000,50000,60000,70000,80000,90000,100000],
    "labelExpr":"(datum.value==10||datum.value==100||datum.value==1000||datum.value==10000||datum.value==100000) ? format(datum.value,'d') : ''",
    "tickSize":{"condition":{"test":"datum.value==10||datum.value==100||datum.value==1000||datum.value==10000||datum.value==100000","value":8},"value":4},
    "labelPadding":6,"titlePadding":4}},
  "y":{"field":"p","type":"quantitative","scale":{"domain":[0,5],"nice":false},
   "axis":{"orient":"left","values":[0,0.5,1,1.5,2,2.5,3,3.5,4,4.5,5],
    "labelExpr":"datum.value % 1 === 0 ? format(datum.value,'d') : ''",
    "tickSize":{"condition":{"test":"datum.value % 1 === 0","value":9},"value":4},
    "labelPadding":4,"title":"Porosity [-]","titlePadding":8,
    "domainColor":"#13999a","domainWidth":1.5,"tickColor":"#13999a","labelColor":"#13999a","titleColor":"#13999a"}},
  "detail":{"field":"s"}
 }
},
{"data":{"name":"topticks"},
 "transform":[{"filter":"datum.major"}],
 "mark":{"type":"rule","color":"black","strokeWidth":1},
 "encoding":{
  "x":{"field":"d","type":"quantitative","scale":{"type":"log","domain":[4,100000],"nice":false},"axis":null},
  "y":{"datum":5,"type":"quantitative","scale":{"domain":[0,5],"nice":false},"axis":null},
  "y2":{"datum":4.909}}
},
{"data":{"name":"topticks"},
 "transform":[{"filter":"!datum.major"}],
 "mark":{"type":"rule","color":"black","strokeWidth":1},
 "encoding":{
  "x":{"field":"d","type":"quantitative","scale":{"type":"log","domain":[4,100000],"nice":false},"axis":null},
  "y":{"datum":5,"type":"quantitative","scale":{"domain":[0,5],"nice":false},"axis":null},
  "y2":{"datum":4.948}}
},
{"data":{"name":"names"},
 "mark":{"type":"text","fontSize":19,"color":"black","align":"center","baseline":"alphabetic"},
 "encoding":{
  "x":{"field":"d","type":"quantitative","scale":{"type":"log","domain":[4,100000],"nice":false},"axis":null},
  "y":{"field":"p","type":"quantitative","scale":{"domain":[0,5],"nice":false},"axis":null},
  "text":{"field":"t"}}
},
{"data":{"name":"eps"},
 "transform":[{"filter":"datum.k == 'e'"}],
 "mark":{"type":"text","fontSize":17,"color":"#13999a","align":"left","baseline":"alphabetic"},
 "encoding":{
  "x":{"field":"d","type":"quantitative","scale":{"type":"log","domain":[4,100000],"nice":false},"axis":null},
  "y":{"field":"p","type":"quantitative","scale":{"domain":[0,5],"nice":false},"axis":null},
  "text":{"field":"t"}}
},
{"data":{"name":"eps"},
 "transform":[{"filter":"datum.k == 's'"}],
 "mark":{"type":"text","fontSize":9,"color":"#13999a","align":"left","baseline":"alphabetic","dy":4},
 "encoding":{
  "x":{"field":"d","type":"quantitative","scale":{"type":"log","domain":[4,100000],"nice":false},"axis":null},
  "y":{"field":"p","type":"quantitative","scale":{"domain":[0,5],"nice":false},"axis":null},
  "text":{"field":"t"}}
},
{"data":{"name":"eps"},
 "transform":[{"filter":"datum.k == 'm'"}],
 "mark":{"type":"text","fontSize":17,"color":"#13999a","align":"left","baseline":"alphabetic"},
 "encoding":{
  "x":{"field":"d","type":"quantitative","scale":{"type":"log","domain":[4,100000],"nice":false},"axis":null},
  "y":{"field":"p","type":"quantitative","scale":{"domain":[0,5],"nice":false},"axis":null},
  "text":{"field":"t"}}
}
],
"resolve":{"scale":{"y":"independent"},"axis":{"x":"independent","y":"independent"}}
}
